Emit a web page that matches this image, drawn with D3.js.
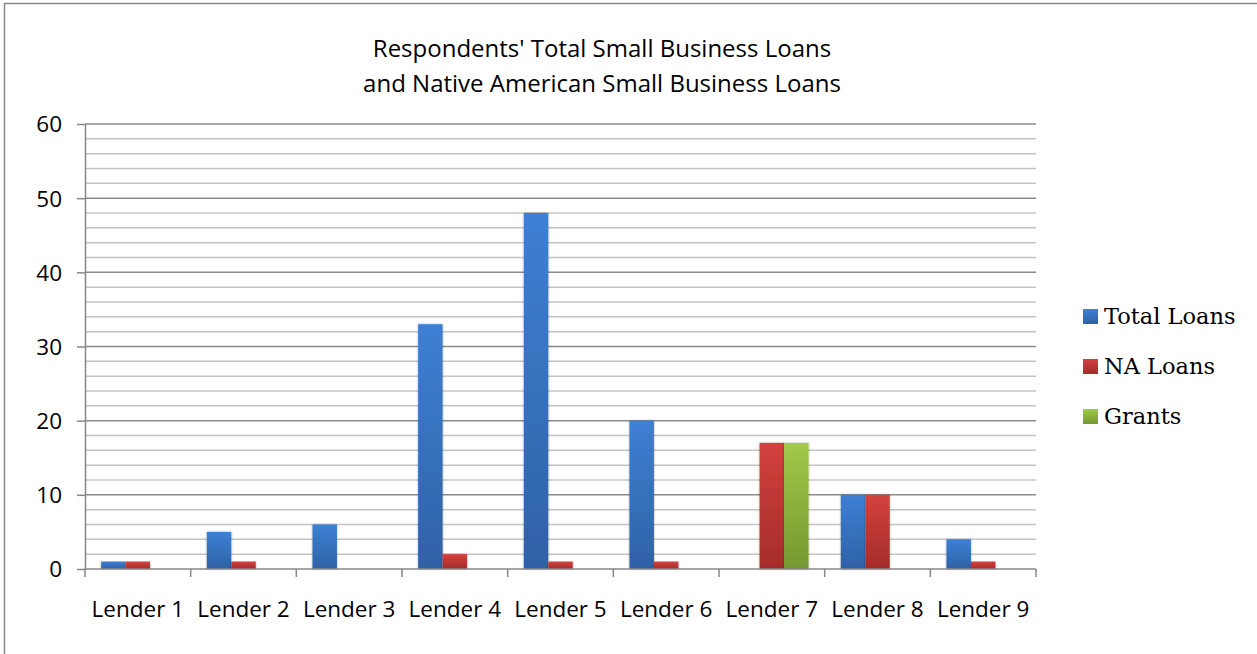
<!DOCTYPE html>
<html>
<head>
<meta charset="utf-8">
<script src="https://cdn.jsdelivr.net/npm/d3@7"></script>
<style>
  body { margin: 0; background: #fff; }
  svg { display: block; }
  .axis text { font-family: 'Open Sans', sans-serif; font-size: 22.5px; fill: #000; }
  .axis path, .axis line { stroke: #878787; stroke-width: 1.5; }
</style>
</head>
<body>
<div id="chart"></div>
<script>
const lenders = ['Lender 1', 'Lender 2', 'Lender 3', 'Lender 4', 'Lender 5', 'Lender 6', 'Lender 7', 'Lender 8', 'Lender 9']
const series = ['Total Loans', 'NA Loans', 'Grants']
const totalLoans = [1, 5, 6, 33, 48, 20, 0, 10, 4]
const naLoans = [1, 1, 0, 2, 1, 1, 17, 10, 1]
const grants = [0, 0, 0, 0, 0, 0, 17, 0, 0]
const yTicks = [0, 10, 20, 30, 40, 50, 60]
const titleLines = ["Respondents' Total Small Business Loans", 'and Native American Small Business Loans']

const width = 1257
const height = 654
const margin = { top: 124, right: 221, bottom: 85, left: 85 }

// colours per series: [top, bottom] of the gradient
const colors = {
  'Total Loans': ['#3d80d3', '#2f61a6'],
  'NA Loans': ['#d3413e', '#a42c2a'],
  'Grants': ['#a1c94a', '#74982f']
}

const values = [totalLoans, naLoans, grants]
const data = lenders.map((name, i) => ({
  name,
  values: series.map((s, j) => ({ key: s, value: values[j][i] }))
}))

const svg = d3.select('#chart')
  .append('svg')
  .attr('width', width)
  .attr('height', height)

// gradients
const defs = svg.append('defs')
series.forEach((s, i) => {
  const g = defs.append('linearGradient')
    .attr('id', `grad${i}`)
    .attr('x1', 0).attr('y1', 0).attr('x2', 0).attr('y2', 1)
  g.append('stop').attr('offset', '0%').attr('stop-color', colors[s][0])
  g.append('stop').attr('offset', '100%').attr('stop-color', colors[s][1])
})
const shadow = defs.append('filter').attr('id', 'shadow')
  .attr('x', '-20%').attr('y', '-5%').attr('width', '140%').attr('height', '110%')
shadow.append('feDropShadow')
  .attr('dx', 0).attr('dy', 0).attr('stdDeviation', 1.2)
  .attr('flood-color', '#000').attr('flood-opacity', 0.35)

// outer frame
svg.append('path')
  .attr('d', `M4.5,${height + 5} V3.5 H${width + 5}`)
  .attr('fill', 'none')
  .attr('stroke', '#878787')
  .attr('stroke-width', 1.5)

const x = d3.scaleBand()
  .domain(lenders)
  .range([margin.left, width - margin.right])
  .padding(0)

const x1 = d3.scaleBand()
  .domain(series)
  .range([0, x.bandwidth()])
  .paddingInner(0)
  .paddingOuter(0.66)

const y = d3.scaleLinear()
  .domain([0, 60])
  .range([height - margin.bottom, margin.top])

// gridlines: minor every 2, major every 10
const grid = svg.append('g')
grid.selectAll('line')
  .data(d3.range(2, 61, 2))
  .join('line')
  .attr('x1', margin.left)
  .attr('x2', width - margin.right)
  .attr('y1', d => y(d))
  .attr('y2', d => y(d))
  .attr('stroke', d => d % 10 === 0 ? '#8a8a8a' : '#c4c4c4')
  .attr('stroke-width', 1.5)

// bars
const groups = svg.append('g')
  .selectAll('g')
  .data(data)
  .join('g')
  .attr('transform', d => `translate(${x(d.name)},0)`)

groups.selectAll('rect')
  .data(d => d.values.filter(v => v.value > 0))
  .join('rect')
  .attr('x', d => x1(d.key))
  .attr('width', x1.bandwidth())
  .attr('y', d => y(d.value))
  .attr('height', d => y(0) - y(d.value))
  .attr('fill', d => `url(#grad${series.indexOf(d.key)})`)
  .attr('filter', 'url(#shadow)')

// axes
svg.append('g')
  .classed('axis', true)
  .attr('transform', `translate(${margin.left},0)`)
  .call(d3.axisLeft(y).tickValues(yTicks).tickSize(8).tickSizeOuter(0).tickPadding(15))
  .call(g => g.selectAll('text').attr('dy', '0.35em'))

const xAxis = svg.append('g')
  .classed('axis', true)
  .attr('transform', `translate(0,${y(0)})`)

xAxis.append('line')
  .attr('x1', margin.left).attr('x2', width - margin.right)
  .attr('y1', 0).attr('y2', 0)

xAxis.selectAll('.tick')
  .data(lenders.map(l => x(l)).concat([x.range()[1]]))
  .join('line')
  .attr('x1', d => d).attr('x2', d => d)
  .attr('y1', 0).attr('y2', 8)

xAxis.selectAll('text')
  .data(lenders)
  .join('text')
  .attr('x', d => x(d) + x.bandwidth() / 2)
  .attr('y', 48)
  .attr('text-anchor', 'middle')
  .text(d => d)

// title
svg.append('g')
  .selectAll('text')
  .data(titleLines)
  .join('text')
  .attr('x', 602)
  .attr('y', (d, i) => 57 + i * 35)
  .attr('text-anchor', 'middle')
  .style('font-family', "'Open Sans', sans-serif")
  .style('font-size', '24px')
  .text(d => d)

// legend
const legend = svg.append('g')
  .attr('transform', 'translate(1083,316)')

const item = legend.selectAll('g')
  .data(series)
  .join('g')
  .attr('transform', (d, i) => `translate(0,${i * 50})`)

item.append('rect')
  .attr('x', 0).attr('y', -7)
  .attr('width', 15).attr('height', 15)
  .attr('fill', (d, i) => `url(#grad${i})`)

item.append('text')
  .attr('x', 21)
  .attr('y', 0)
  .attr('dy', '0.35em')
  .style('font-family', "'DejaVu Serif', serif")
  .style('font-size', '22.5px')
  .text(d => d)
</script>
</body>
</html>
